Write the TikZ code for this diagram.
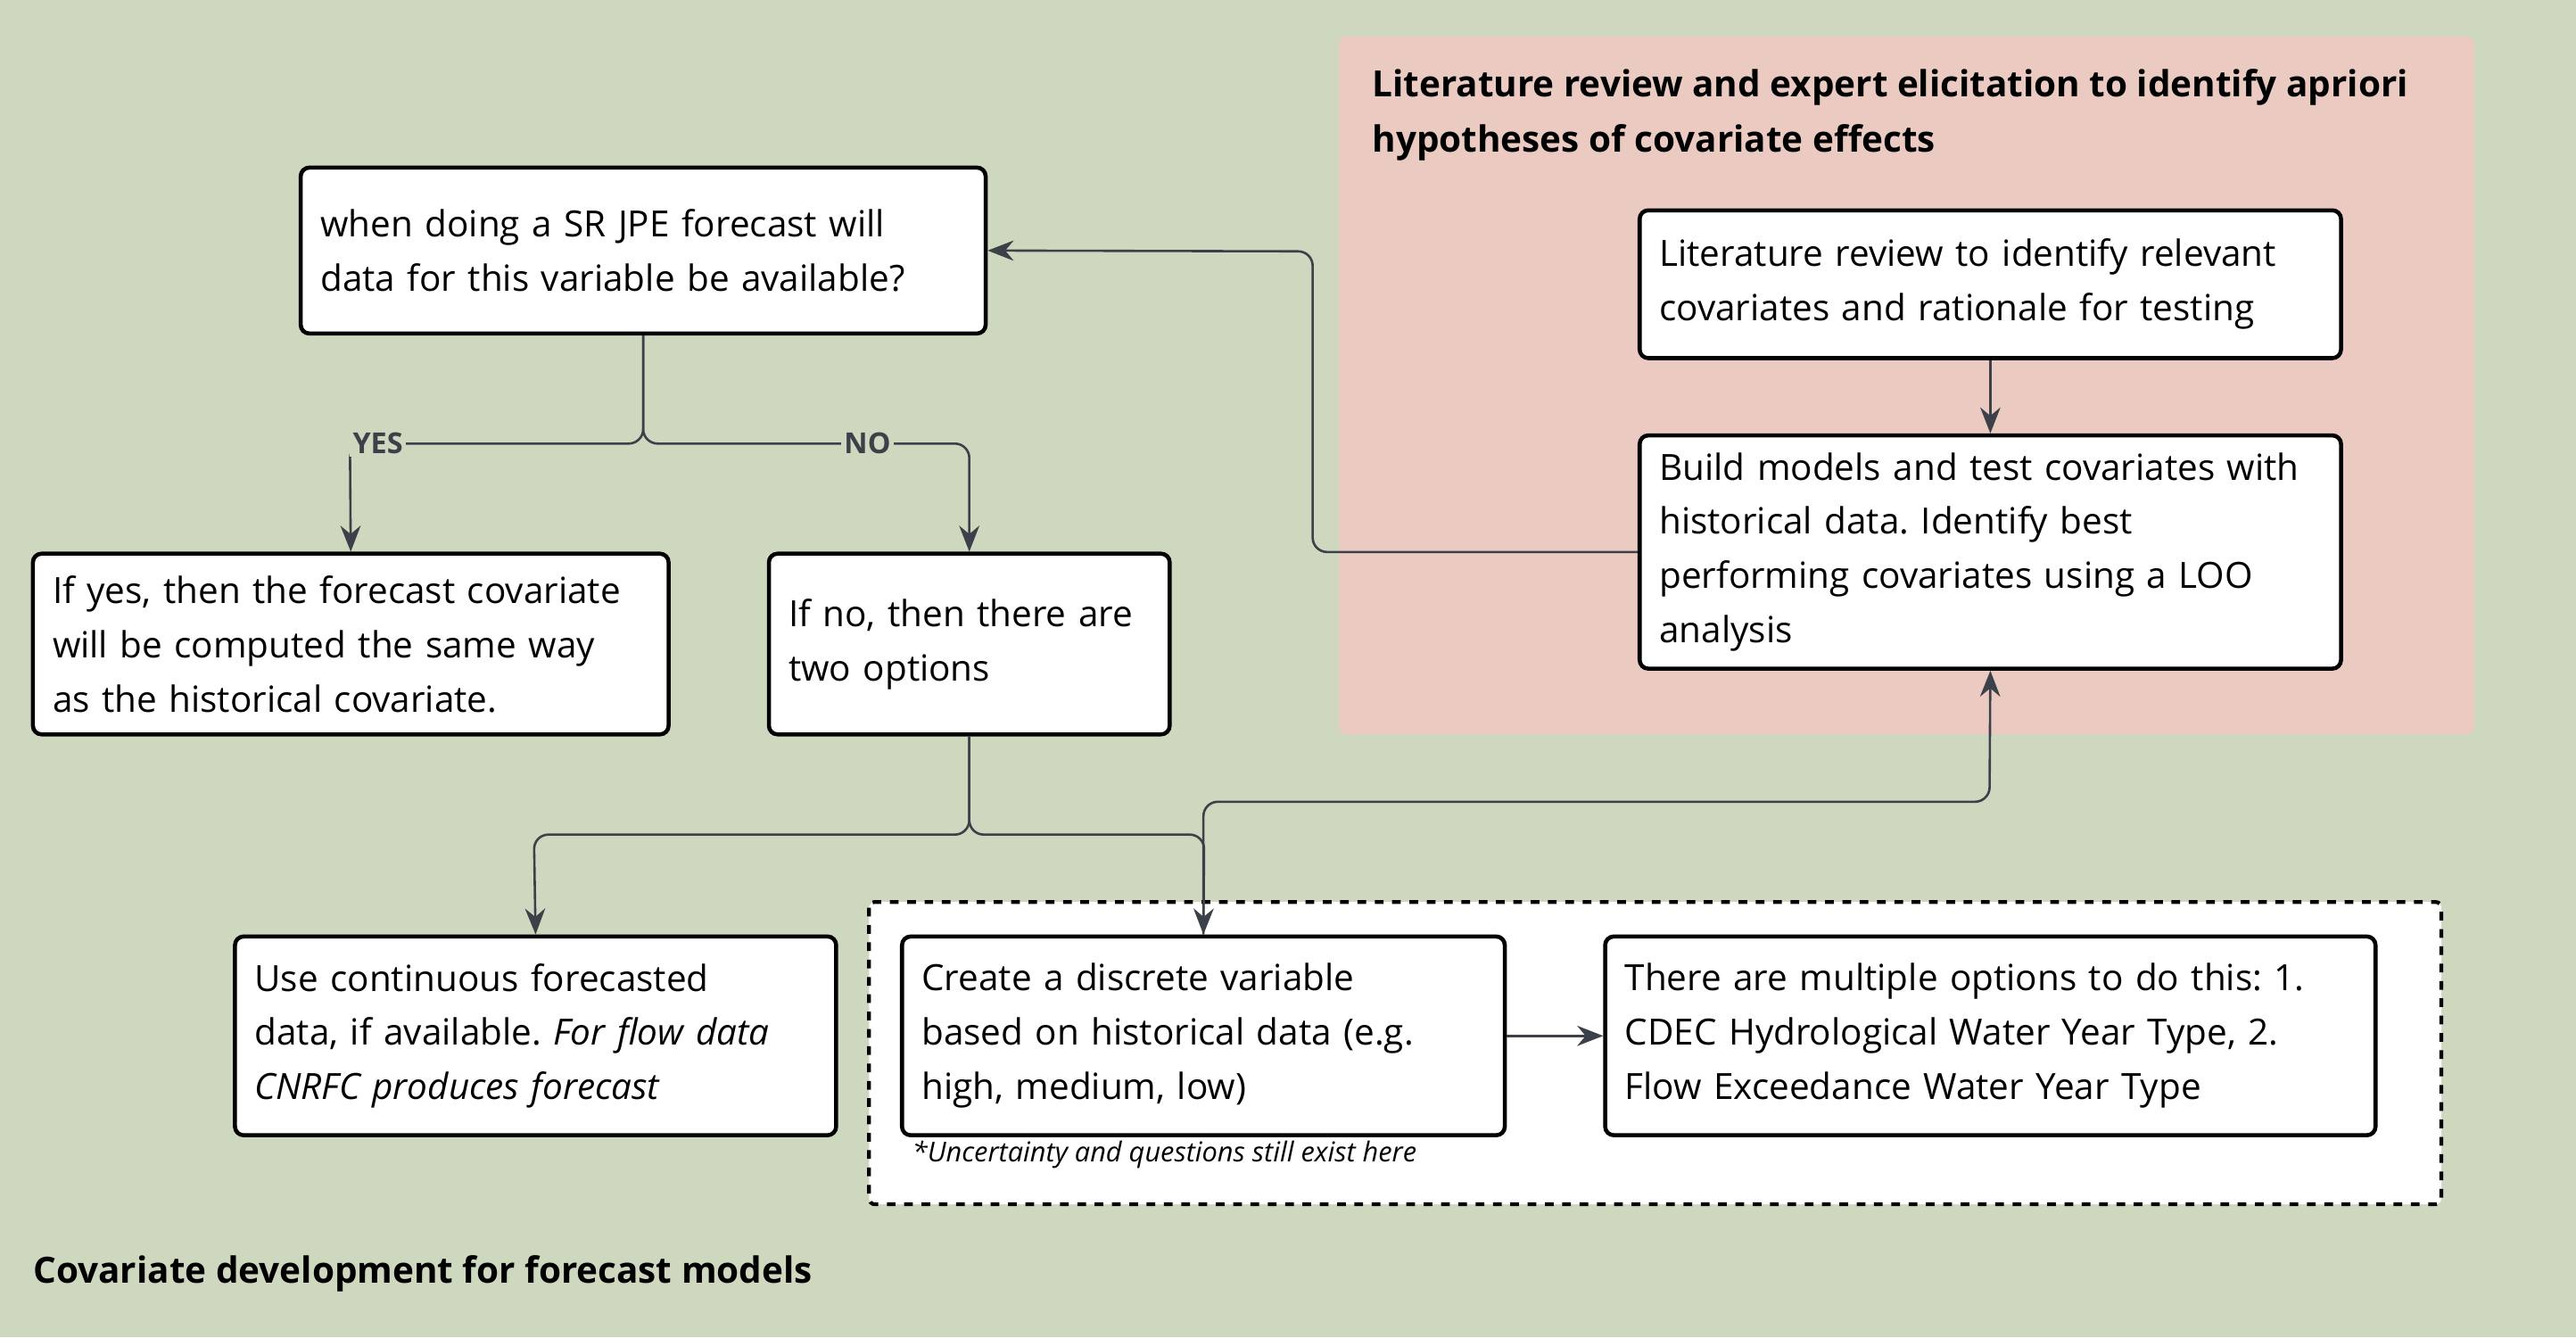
\documentclass[tikz,border=0pt]{standalone}
\usepackage{fontspec}
\setmainfont{Open Sans}
\frenchspacing
\usetikzlibrary{arrows.meta}
\definecolor{sage}{HTML}{CDD8BE}
\definecolor{blush}{HTML}{EBCBC1}
\definecolor{wire}{HTML}{3C4048}
\tikzset{
  stage/.style={draw=black, fill=white, line width=1.4pt, rounded corners=3pt,
    align=left, inner sep=0pt, font=\fontsize{12.5}{18.8}\selectfont},
  link/.style={draw=wire, line width=0.8pt, rounded corners=5pt, -{Stealth[length=9pt,width=7pt]}},
  tag/.style={font=\fontsize{10}{12}\selectfont\bfseries, text=wire, inner sep=1pt},
}
\begin{document}
\begin{tikzpicture}[x=0.02cm, y=-0.02cm]
	\useasboundingbox (0,0) rectangle (1568,814);
	\fill[sage] (0,0) rectangle (1568,814);
	\fill[blush, rounded corners=3pt] (815,22) rectangle (1506,447);
	\draw[line width=1.3pt, dash pattern=on 3pt off 3pt, fill=white, rounded corners=2pt] (529,549) rectangle (1486,733);

	\node (lit) at (835,42) [anchor=north west, inner sep=0pt, align=left, font=\fontsize{12.5}{19}\selectfont\bfseries]
		{Literature review and expert elicitation to identify apriori\\hypotheses of covariate effects};
	\node (cov) at (20,775) [anchor=west, inner sep=0pt, font=\fontsize{12.5}{15}\selectfont\bfseries]
		{Covariate development for forecast models};

	\node (avail) at (391.5,152.5) [stage, minimum width=8.34cm, minimum height=2.02cm, text width=7.86cm]
		{when doing a SR JPE forecast will\\data for this variable be available?};
	\node (yes) at (213.5,392) [stage, minimum width=7.74cm, minimum height=2.2cm, text width=7.26cm]
		{If yes, then the forecast covariate\\will be computed the same way\\as the historical covariate.};
	\node (no) at (590,392) [stage, minimum width=4.88cm, minimum height=2.2cm, text width=4.4cm]
		{If no, then there are\\two options};
	\node (review) at (1211.5,173) [stage, minimum width=8.54cm, minimum height=1.8cm, text width=8.06cm]
		{Literature review to identify relevant\\covariates and rationale for testing};
	\node (build) at (1211.5,336) [stage, minimum width=8.54cm, minimum height=2.84cm, text width=8.06cm]
		{Build models and test covariates with\\historical data. Identify best\\performing covariates using a LOO\\analysis};
	\node (cont) at (326,630.5) [stage, minimum width=7.32cm, minimum height=2.42cm, text width=6.84cm]
		{Use continuous forecasted\\data, if available. \emph{For flow data}\\\emph{CNRFC produces forecast}};
	\node (disc) at (732.5,630.5) [stage, minimum width=7.34cm, minimum height=2.42cm, text width=6.86cm]
		{Create a discrete variable\\based on historical data (e.g.\\high, medium, low)};
	\node (opts) at (1211.5,630.5) [stage, minimum width=9.38cm, minimum height=2.42cm, text width=8.9cm]
		{There are multiple options to do this: 1.\\CDEC Hydrological Water Year Type, 2.\\Flow Exceedance Water Year Type};
	\node (note) at (555,703) [anchor=west, inner sep=0pt, font=\fontsize{9.5}{11}\selectfont\itshape]
		{*Uncertainty and questions still exist here};

	\draw[link] (avail.south) |- (213,270) -- (yes.north);
	\draw[link] (avail.south) |- (590,270) -- (no.north);
	\node[tag, fill=sage] at (230,270) {YES};
	\node[tag, fill=sage] at (528,270) {NO};
	\draw[link] (review) -- (build);
	\draw[link] (build.west) -| (799,153) -- (avail.east);
	\draw[link] (no.south) |- (325,508) -- (cont.north);
	\draw[link] (no.south) |- (733,508) -- (disc.north);
	\draw[link] (disc.north) |- (1211,488) -- (build.south);
	\draw[link] (disc.east) -- (opts.west);
\end{tikzpicture}
\end{document}
